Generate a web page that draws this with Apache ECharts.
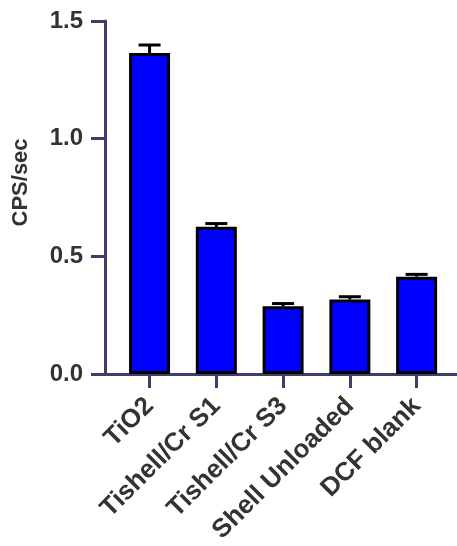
<!DOCTYPE html>
<html>
<head>
<meta charset="utf-8">
<script src="https://cdn.jsdelivr.net/npm/echarts@6/dist/echarts.min.js"></script>
<style>
  html, body { margin: 0; padding: 0; background: #ffffff; }
  #chart { width: 457px; height: 546px; }
</style>
</head>
<body>
<div id="chart"></div>
<script>
// Sample groups and measured signal (mean and SEM)
const categories = ['TiO2', 'Tishell/Cr S1', 'Tishell/Cr S3', 'Shell Unloaded', 'DCF blank'];
const means = [1.364, 0.625, 0.287, 0.316, 0.413];
const sems = [0.034, 0.014, 0.012, 0.012, 0.010];
const yTicks = [0, 0.5, 1.0, 1.5];

const axisColor = '#3e3e6c';
const textColor = '#333333';
const font = '"Liberation Sans", Arial, sans-serif';

const positions = categories.map((_, i) => i);
const barData = means.map((m, i) => [i, m]);
const errData = means.map((m, i) => [i, m, sems[i]]);

const chart = echarts.init(document.getElementById('chart'), null, { renderer: 'canvas' });

chart.setOption({
  backgroundColor: '#ffffff',
  animation: false,
  grid: { left: 105, right: 0, top: 21, bottom: 171, containLabel: false },
  xAxis: {
    type: 'value',
    min: -0.6675,
    max: 4.605,
    splitLine: { show: false },
    axisLine: { show: true, onZero: true, lineStyle: { color: axisColor, width: 3 } },
    axisTick: { show: true, customValues: positions, length: 14, inside: false,
                lineStyle: { color: axisColor, width: 3 } },
    axisLabel: {
      customValues: positions,
      formatter: v => categories[Math.round(v)],
      rotate: 45,
      margin: 28,
      color: textColor,
      fontFamily: font,
      fontWeight: 'bold',
      fontSize: 26
    }
  },
  yAxis: {
    type: 'value',
    min: yTicks[0],
    max: yTicks[yTicks.length - 1],
    interval: 0.5,
    name: 'CPS/sec',
    nameLocation: 'middle',
    nameGap: 73,
    nameRotate: 90,
    nameTextStyle: { color: textColor, fontFamily: font, fontWeight: 'bold', fontSize: 22,
                     padding: [0, 0, 0, 30] },
    splitLine: { show: false },
    axisLine: { show: true, onZero: false, lineStyle: { color: axisColor, width: 3 } },
    axisTick: { show: true, length: 14, lineStyle: { color: axisColor, width: 3 } },
    axisLabel: {
      formatter: v => v.toFixed(1),
      margin: 22,
      color: textColor,
      fontFamily: font,
      fontWeight: 'bold',
      fontSize: 24
    }
  },
  series: [
    {
      type: 'bar',
      data: barData,
      barWidth: 41,
      itemStyle: { color: '#0000ff', borderColor: '#000000', borderWidth: 3 },
      z: 2
    },
    {
      type: 'custom',
      data: errData,
      z: 3,
      renderItem: (params, api) => {
        const x = api.value(0);
        const base = api.coord([x, api.value(1)]);
        const top = api.coord([x, api.value(1) + api.value(2)]);
        const half = 11;
        const style = { stroke: '#000000', lineWidth: 3 };
        return {
          type: 'group',
          children: [
            { type: 'line', shape: { x1: base[0], y1: base[1], x2: top[0], y2: top[1] }, style },
            { type: 'line', shape: { x1: top[0] - half, y1: top[1], x2: top[0] + half, y2: top[1] }, style }
          ]
        };
      }
    }
  ]
});
</script>
</body>
</html>
